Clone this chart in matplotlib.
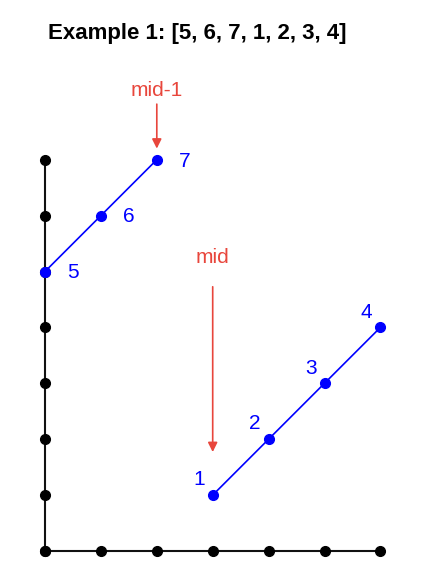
import matplotlib.pyplot as plt

plt.rcParams['font.family'] = ['Liberation Sans', 'DejaVu Sans']

# array values in order, plotted against index
values = [5, 6, 7, 1, 2, 3, 4]
left_idx = [0, 1, 2]
right_idx = [3, 4, 5, 6]
x_ticks = [0, 1, 2, 3, 4, 5, 6]
y_ticks = [0, 1, 2, 3, 4, 5, 6, 7]
title = "Example 1: [5, 6, 7, 1, 2, 3, 4]"

blue = '#0000ff'
red = '#e8463c'

fig = plt.figure(figsize=(4.3, 5.86), dpi=100)
ax = fig.add_axes([0, 0, 1, 1])
# one data unit is ~56 px, origin at pixel (45, 551)
u = 55.9
ax.set_xlim(-45 / u, (430 - 45) / u)
ax.set_ylim(-(586 - 551) / u, 551 / u)
ax.axis('off')

# axes with dotted ticks
ax.plot([0, 0], [0, max(y_ticks)], color='#111111', lw=1.5, zorder=1)
ax.plot([0, max(x_ticks)], [0, 0], color='#111111', lw=1.5, zorder=1)
ax.plot([0] * len(y_ticks), y_ticks, 'o', color='black', ms=7, zorder=2)
ax.plot(x_ticks, [0] * len(x_ticks), 'o', color='black', ms=7, zorder=2)

# the two sorted runs
for idx in (left_idx, right_idx):
    xs = idx
    ys = [values[i] for i in idx]
    ax.plot(xs, ys, '-', color=blue, lw=1.2, zorder=3)
    ax.plot(xs, ys, 'o', color=blue, ms=7, zorder=4)

for i in left_idx:
    ax.annotate(str(values[i]), (i, values[i]), xytext=(20, -1),
                textcoords='offset points', color=blue, fontsize=15,
                ha='center', va='center')
for i in right_idx:
    ax.annotate(str(values[i]), (i, values[i]), xytext=(-10, 11),
                textcoords='offset points', color=blue, fontsize=15,
                ha='center', va='center')

# mid-1 and mid pointers
ax.annotate('', xy=(2, values[2]), xytext=(0, 40), textcoords='offset points',
            arrowprops=dict(arrowstyle='-|>', color=red, lw=1.2,
                            mutation_scale=14, shrinkA=0, shrinkB=8))
ax.annotate('mid-1', (2, values[2]), xytext=(0, 50), textcoords='offset points',
            color=red, fontsize=15, ha='center', va='center')

ax.annotate('', xy=(3, values[3]), xytext=(0, 150), textcoords='offset points',
            arrowprops=dict(arrowstyle='-|>', color=red, lw=1.2,
                            mutation_scale=14, shrinkA=0, shrinkB=31))
ax.annotate('mid', (3, values[3]), xytext=(0, 171), textcoords='offset points',
            color=red, fontsize=15, ha='center', va='center')

fig.text(197 / 430, 1 - 33 / 586, title, fontsize=16, fontweight='bold',
         ha='center', va='center')

fig.savefig('out.png', dpi=100)
